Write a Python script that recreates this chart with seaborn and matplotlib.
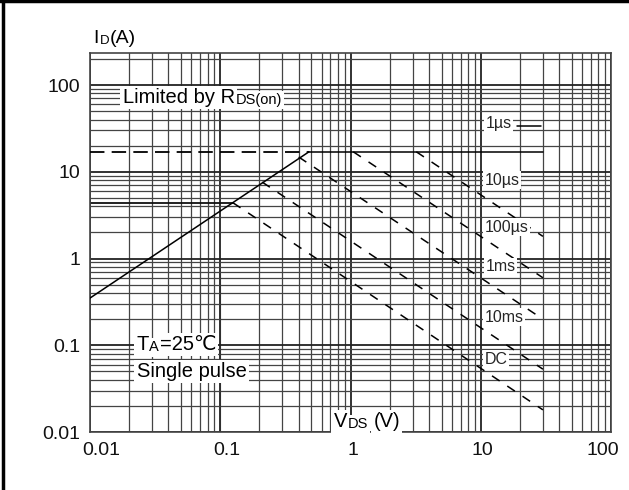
import matplotlib
matplotlib.use("Agg")
import matplotlib.pyplot as plt
import seaborn as sns
from matplotlib.lines import Line2D
from matplotlib.transforms import ScaledTranslation
from matplotlib.ticker import FixedLocator, FixedFormatter, LogLocator, NullFormatter

# ---------------- data ----------------
tick_values = [0.01, 0.1, 1, 10, 100]
tick_labels = ["0.01", "0.1", "1", "10", "100"]

# RDS(on) limit line (solid) and ID max lines
rds_v = [0.01, 0.48]
rds_i = [0.35, 17]
idmax_dash_v = [0.01, 0.48]
idmax_dash_i = [17, 17]
idmax_v = [0.48, 30]
idmax_i = [17, 17]
us1_v = [19, 29]
us1_i = [34, 34]

# pulse-width power lines (dashed)
us100_v = [3.2, 30]
us100_i = [17, 1.8]
ms1_v = [1.05, 30]
ms1_i = [17, 0.6]
ms10_v = [0.40, 30]
ms10_i = [14.8, 0.2]
dc_v = [0.21, 30]
dc_i = [7.6, 0.053]
low_v = [0.125, 30]
low_i = [4.4, 0.018]

# extra reference segments
ref_h_v = [0.01, 0.125]
ref_h_i = [4.4, 4.4]
ref_v_v = [0.1, 0.1]
ref_v_i = [0.01, 0.68]

# curve labels (text, x, y)
curve_label_text = ["1µs", "10µs", "100µs", "1ms", "10ms", "DC"]
curve_label_x = [10.9, 10.7, 10.7, 10.9, 10.7, 10.7]
curve_label_y = [36, 8.0, 2.3, 0.8, 0.21, 0.069]

# ---------------- style ----------------
sns.set_style("white")
FAM = ["Liberation Sans", "DejaVu Sans"]
plt.rcParams["font.family"] = FAM

fig = plt.figure(figsize=(6.29, 4.90), dpi=100)
ax = fig.add_axes([90 / 629, 1 - 432 / 490, (611 - 90) / 629, (432 - 53) / 490])

ax.set_xscale("log")
ax.set_yscale("log")
ax.set_xlim(0.01, 100)
ax.set_ylim(0.01, 234)

ax.xaxis.set_major_locator(FixedLocator(tick_values))
ax.xaxis.set_major_formatter(FixedFormatter(tick_labels))
ax.yaxis.set_major_locator(FixedLocator(tick_values))
ax.yaxis.set_major_formatter(FixedFormatter(tick_labels))
ax.xaxis.set_minor_locator(LogLocator(base=10, subs=range(2, 10)))
ax.yaxis.set_minor_locator(LogLocator(base=10, subs=range(2, 10)))
ax.xaxis.set_minor_formatter(NullFormatter())
ax.yaxis.set_minor_formatter(NullFormatter())

ax.grid(True, which="major", color="#222222", lw=1.3)
ax.grid(True, which="minor", color="#444444", lw=0.9)
ax.set_axisbelow(True)
ax.tick_params(which="both", length=0, labelsize=14, pad=7, colors="#111111")
for s in ax.spines.values():
    s.set_color("#444444")
    s.set_linewidth(1.2)

# small horizontal shifts of x tick labels as in the original
xshift_px = [11, 7, 2, 2, -8]
for tick, dx in zip(ax.xaxis.get_major_ticks(), xshift_px):
    tick.label1.set_transform(tick.label1.get_transform()
                              + ScaledTranslation(dx / fig.dpi, 0, fig.dpi_scale_trans))

lw = 1.1
solid = dict(color="black", lw=lw, zorder=3)
dashed = dict(color="black", lw=lw, zorder=3, linestyle=(0, (6, 6)))

sns.lineplot(x=rds_v, y=rds_i, ax=ax, **solid)
sns.lineplot(x=idmax_dash_v, y=idmax_dash_i, ax=ax, color="black", lw=1.3, zorder=3,
             linestyle=(0, (8, 4)))
sns.lineplot(x=idmax_v, y=idmax_i, ax=ax, **solid)
sns.lineplot(x=us1_v, y=us1_i, ax=ax, **solid)
for xv, yv in [(us100_v, us100_i), (ms1_v, ms1_i), (ms10_v, ms10_i),
               (dc_v, dc_i), (low_v, low_i)]:
    sns.lineplot(x=xv, y=yv, ax=ax, **dashed)
sns.lineplot(x=ref_h_v, y=ref_h_i, ax=ax, color="#111111", lw=1.3, zorder=2)
sns.lineplot(x=ref_v_v, y=ref_v_i, ax=ax, color="#111111", lw=1.6, zorder=2)

box = dict(facecolor="white", edgecolor="none", pad=1.0)
for t, x, y in zip(curve_label_text, curve_label_x, curve_label_y):
    ax.text(x, y, t, fontsize=11.5, ha="left", va="center", bbox=box, zorder=5)

renderer = fig.canvas.get_renderer()


def rich_text(x, y, parts, coords="data", boxed=True, zorder=6):
    """parts: list of (string, fontsize, dy_points, gap_after_points)."""
    off = 0.0
    for s, size, dy, gap in parts:
        kw = dict(xy=(x, y), xycoords=coords, xytext=(off, dy), textcoords="offset points",
                  fontsize=size, ha="left", va="baseline", family=FAM)
        t = ax.annotate(s, color="black", zorder=zorder, **kw)
        if boxed:
            ax.annotate(s, color="white", zorder=zorder - 1,
                        bbox=dict(facecolor="white", edgecolor="none", pad=1.6), **kw)
        w = t.get_window_extent(renderer).width * 72 / fig.dpi
        off += w + gap


rich_text(0.0178, 75, [("Limited by R", 14.5, -5, 0.8), ("DS(on)", 10.5, -6, 0)])
rich_text(0.0228, 0.106, [("T", 14.5, -5, 0.3), ("A", 10.5, -6, 0.3), ("=25℃", 14.5, -5, 0)])
rich_text(0.0228, 0.052, [("Single pulse", 14.5, -5, 0)])
rich_text(0.74, 0.0137, [("V", 14.5, -5, 0.6), ("DS", 10.5, -6, 4.0), ("(V)", 14.5, -5, 0)])
rich_text(93 / 629, 1 - 43 / 490, [("I", 14, 0, 0.8), ("D", 9.5, -1, 0.3), ("(A)", 14, 0, 0)],
          coords="figure fraction", boxed=False)

# outer frame (left and top edges)
fig.add_artist(Line2D([0.004, 0.004], [0, 1], transform=fig.transFigure, color="black", lw=2.5))
fig.add_artist(Line2D([0, 1], [0.997, 0.997], transform=fig.transFigure, color="black", lw=2.5))

fig.savefig("out.png", dpi=100, facecolor="white")
